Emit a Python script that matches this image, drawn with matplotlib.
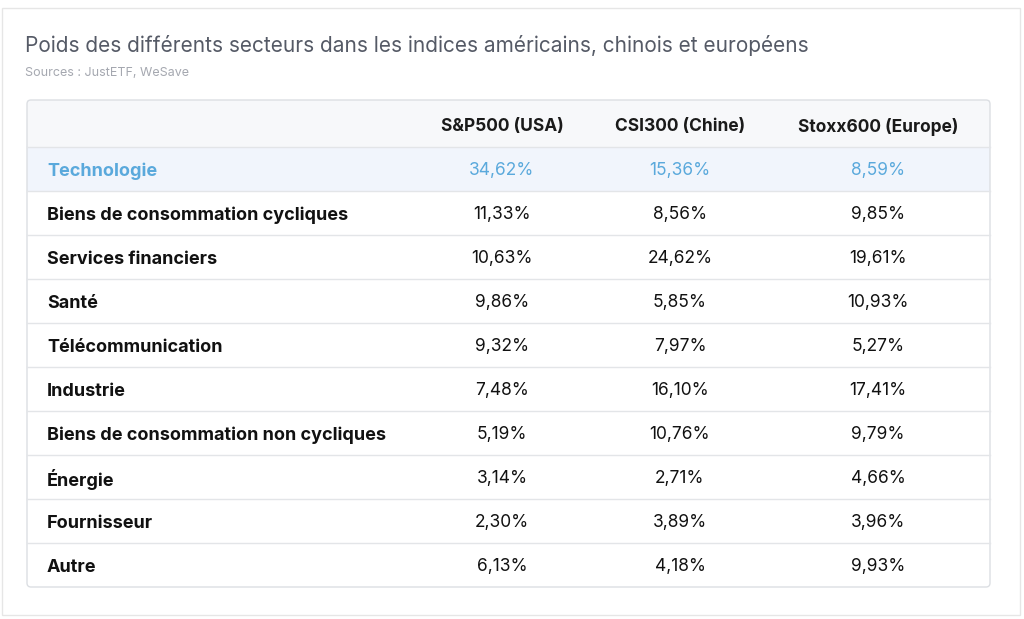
import matplotlib.pyplot as plt
from matplotlib.patches import Rectangle, FancyBboxPatch

plt.rcParams['font.family'] = ['Inter', 'DejaVu Sans']

title = "Poids des différents secteurs dans les indices américains, chinois et européens"
source = "Sources : JustETF, WeSave"
columns = ["S&P500 (USA)", "CSI300 (Chine)", "Stoxx600 (Europe)"]
sectors = ["Technologie", "Biens de consommation cycliques", "Services financiers", "Santé",
           "Télécommunication", "Industrie", "Biens de consommation non cycliques",
           "Énergie", "Fournisseur", "Autre"]
sp500 = ["34,62%", "11,33%", "10,63%", "9,86%", "9,32%", "7,48%", "5,19%", "3,14%", "2,30%", "6,13%"]
csi300 = ["15,36%", "8,56%", "24,62%", "5,85%", "7,97%", "16,10%", "10,76%", "2,71%", "3,89%", "4,18%"]
stoxx600 = ["8,59%", "9,85%", "19,61%", "10,93%", "5,27%", "17,41%", "9,79%", "4,66%", "3,96%", "9,93%"]

fig = plt.figure(figsize=(10.24, 6.19), dpi=100)
ax = fig.add_axes([0, 0, 1, 1])
ax.set_xlim(0, 1024)
ax.set_ylim(619, 0)
ax.axis('off')

# card
ax.add_patch(Rectangle((2, 8), 1018, 607, fill=False, ec="#e6e6e6", lw=1))
ax.text(25, 46, title, fontsize=15, color="#555a66", va="center")
ax.text(25, 73, source, fontsize=9, color="#a5a8b0", va="center")

x0, x1 = 27, 990
top, hdr_h, row_h = 100, 47, 44
col_x = [502, 680, 878]
label_x = 47

ax.add_patch(Rectangle((x0, top), x1 - x0, hdr_h, fc="#f7f8fa", ec="none"))
ax.add_patch(Rectangle((x0, top + hdr_h), x1 - x0, row_h, fc="#f1f5fc", ec="none"))
for cx, c in zip(col_x, columns):
    ax.text(cx, top + hdr_h / 2 + 3, c, fontsize=12.5, fontweight="bold", color="#1a1a1a",
            ha="center", va="center")

for i, s in enumerate(sectors):
    yc = top + hdr_h + row_h * i + row_h / 2 + 2
    tech = i == 0
    col = "#5aa9dc" if tech else "#111111"
    ax.text(label_x, yc, s, fontsize=13, fontweight="bold", color=col, va="center")
    for cx, v in zip(col_x, (sp500[i], csi300[i], stoxx600[i])):
        ax.text(cx, yc, v, fontsize=12.5, color=col, ha="center", va="center")
    ax.plot([x0, x1], [top + hdr_h + row_h * i] * 2, color="#e3e5e8", lw=1)

bottom = top + hdr_h + row_h * len(sectors)
ax.add_patch(FancyBboxPatch((x0, top), x1 - x0, bottom - top, boxstyle="round,pad=0,rounding_size=4",
                            fill=False, ec="#dcdfe3", lw=1))

fig.savefig("out.png", dpi=100)
